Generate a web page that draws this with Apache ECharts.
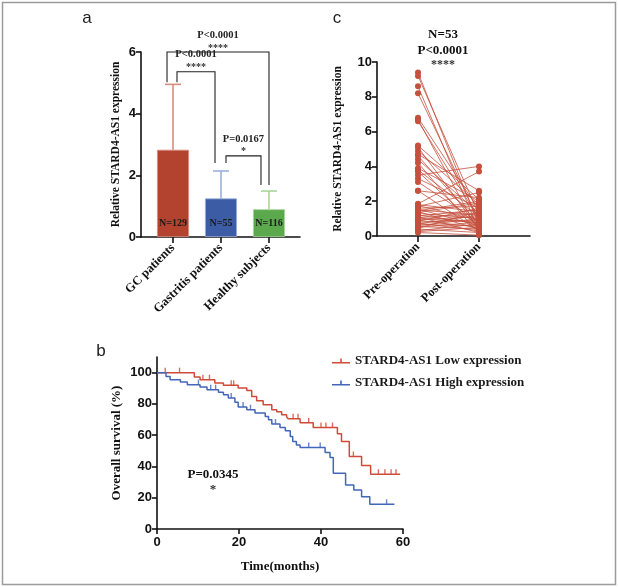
<!DOCTYPE html>
<html lang="en">
<head>
    <meta charset="UTF-8">
    <title>STARD4-AS1 expression and survival</title>
    <script src="https://cdn.jsdelivr.net/npm/echarts@6/dist/echarts.min.js"></script>
    <style>
        body { margin: 0; padding: 0; background: #ffffff; }
        #chart { width: 618px; height: 587px; }
    </style>
</head>
<body>
    <div id="chart"></div>
    <script>
        // panel a: bar chart with SD error bars
        const groupNames = ['GC patients', 'Gastritis patients', 'Healthy subjects'];
        const groupMeans = [2.83, 1.25, 0.9];
        const groupUpper = [4.95, 2.14, 1.49];
        const groupN = ['N=129', 'N=55', 'N=116'];
        const barColors = ['#B3432F', '#3C5DA6', '#5BA94C'];
        const errColors = ['#D98C7E', '#9CB0DA', '#A9D59C'];

        // significance brackets (x from / to, top, left leg end, right leg end)
        const bracketX1 = [0.875, 1.083, 2.104];
        const bracketX2 = [3.0, 1.875, 2.833];
        const bracketTop = [6.0, 5.36, 2.63];
        const bracketLeftEnd = [5.02, 5.02, 2.4];
        const bracketRightEnd = [1.69, 2.4, 1.69];
        const bracketP = ['P<0.0001', 'P<0.0001', 'P=0.0167'];
        const bracketStars = ['****', '****', '*'];

        // panel c: paired pre / post operation
        const pairNames = ['Pre-operation', 'Post-operation'];
        const preValues = [9.4, 9.2, 8.6, 8.2, 6.8, 6.7, 6.6, 5.2, 5.1, 4.9, 4.7, 4.6, 4.4, 4.2, 3.9, 3.8, 3.7, 3.5, 3.3, 3.1,
            2.6, 2.6, 1.85, 1.8, 1.75, 1.7, 1.6, 1.55, 1.5, 1.45, 1.4, 1.35, 1.3, 1.2, 1.15, 1.1, 1.05, 1.0, 0.95, 0.9,
            0.85, 0.8, 0.75, 0.7, 0.65, 0.6, 0.55, 0.5, 0.45, 0.4, 0.3, 0.25, 0.2];
        const postValues = [0.6, 1.2, 0.3, 0.9, 1.5, 0.2, 1.0, 2.1, 0.4, 1.8, 2.6, 0.7, 1.3, 0.1, 2.0, 1.1, 0.5, 4.0, 1.6, 0.8,
            2.2, 0.3, 3.7, 1.4, 0.9, 2.5, 1.7, 0.6, 1.2, 2.0, 0.4, 1.9, 1.0, 0.7, 1.5, 0.2, 1.3, 0.8, 1.1, 0.5,
            1.6, 0.9, 0.3, 1.2, 0.6, 1.0, 0.4, 0.8, 1.4, 0.2, 0.7, 0.5, 0.05];

        // panel b: Kaplan-Meier
        const lowTimes = [0, 9.1, 10.5, 14.1, 16.2, 19.8, 21.9, 23.1, 24.3, 25.9, 28, 29.2, 30.4, 31.6, 32, 34.9, 38.1, 44, 45, 46.9, 49.9, 52.1, 59.3];
        const lowSurv = [100, 97.2, 95.5, 93.4, 91.9, 90.2, 88.5, 84.8, 82, 79.5, 76.3, 75, 73.1, 71.8, 70.5, 67.9, 64.9, 60.9, 56, 46.4, 40.6, 35, 35];
        const highTimes = [0, 2.2, 3.2, 5.7, 7.4, 10.5, 12.2, 15, 16.2, 17.4, 19, 19.8, 21.9, 23.9, 26.4, 27.2, 28, 30, 31.3, 32.5, 33.1, 34, 34.9, 41, 42.2, 43, 46, 48, 49.9, 51.9, 57.9];
        const highSurv = [100, 97.6, 95.5, 94, 92.3, 90.8, 89.1, 87.4, 85.9, 83.8, 81, 78, 76.3, 74.2, 72, 69.9, 67.1, 64.9, 62.8, 59.2, 56, 53.8, 52.1, 48.9, 45.7, 35.7, 28.2, 25, 20.7, 15.8, 15.8];
        const lowCensorT = [2, 5.5, 11.2, 12.8, 18.1, 18.7, 33.2, 34.4, 37, 40, 41.2, 42.8, 47.9, 54, 55.6, 57.1, 58.3];
        const lowCensorS = [100, 100, 95.5, 95.5, 91.9, 91.9, 70.5, 70.5, 67.9, 64.9, 64.9, 64.9, 46.4, 35, 35, 35, 35];
        const highCensorT = [10.1, 13.1, 14.3, 18.1, 21, 22.8, 28.9, 37, 39.8, 56];
        const highCensorS = [92.3, 89.1, 89.1, 83.8, 78, 76.3, 67.1, 52.1, 52.1, 15.8];
        const kmNames = ['STARD4-AS1 Low expression', 'STARD4-AS1 High expression'];
        const kmColors = ['#D04A38', '#4266B8'];

        const serif = '"Liberation Serif", "Times New Roman", serif';
        const sans = '"Liberation Sans", Arial, sans-serif';
        const axisLine = { show: true, lineStyle: { color: '#111', width: 1.6 } };
        const axisTick = { show: true, length: 5, lineStyle: { color: '#111', width: 1.6 } };
        const tickFont = { fontFamily: sans, fontWeight: 'bold', fontSize: 13, color: '#111' };

        const chart = echarts.init(document.getElementById('chart'));

        const series = [];

        // --- panel a ---
        series.push({
            type: 'bar',
            xAxisIndex: 0, yAxisIndex: 0,
            barWidth: 32,
            data: groupMeans.map((v, i) => ({
                value: [i + 1, v],
                itemStyle: { color: barColors[i], borderColor: errColors[i], borderWidth: 0.8 }
            })),
            label: {
                show: true,
                position: 'insideBottom',
                distance: 9,
                formatter: p => groupN[p.dataIndex],
                fontFamily: serif, fontWeight: 'bold', fontSize: 10, color: '#1a1a1a'
            }
        });
        series.push({
            type: 'custom',
            xAxisIndex: 0, yAxisIndex: 0,
            data: groupMeans.map((v, i) => [i + 1, v, groupUpper[i]]),
            encode: { x: 0, y: [1, 2] },
            renderItem: (params, api) => {
                const i = params.dataIndex;
                const lo = api.coord([api.value(0), api.value(1)]);
                const hi = api.coord([api.value(0), api.value(2)]);
                const st = { stroke: errColors[i], lineWidth: 1.6 };
                return {
                    type: 'group', children: [
                        { type: 'line', shape: { x1: lo[0], y1: lo[1], x2: hi[0], y2: hi[1] }, style: st },
                        { type: 'line', shape: { x1: hi[0] - 8, y1: hi[1], x2: hi[0] + 8, y2: hi[1] }, style: st }
                    ]
                };
            }
        });
        series.push({
            type: 'custom',
            xAxisIndex: 0, yAxisIndex: 0,
            data: bracketX1.map((x, i) => [x, bracketX2[i], bracketTop[i], bracketLeftEnd[i], bracketRightEnd[i]]),
            encode: { x: [0, 1], y: [2, 3, 4] },
            renderItem: (params, api) => {
                const i = params.dataIndex;
                const t1 = api.coord([api.value(0), api.value(2)]);
                const t2 = api.coord([api.value(1), api.value(2)]);
                const l = api.coord([api.value(0), api.value(3)]);
                const r = api.coord([api.value(1), api.value(4)]);
                const cx = (t1[0] + t2[0]) / 2;
                return {
                    type: 'group', children: [
                        { type: 'polyline', shape: { points: [l, t1, t2, r] }, style: { stroke: '#222', lineWidth: 1.1, fill: null } },
                        { type: 'text', style: { text: bracketP[i], x: cx, y: t1[1] - 17, align: 'center', verticalAlign: 'middle', font: 'bold 10.5px ' + serif, fill: '#222' } },
                        { type: 'text', style: { text: bracketStars[i], x: cx, y: t1[1] - 4, align: 'center', verticalAlign: 'middle', font: 'bold 10px ' + serif, fill: '#333' } }
                    ]
                };
            }
        });

        // --- panel c ---
        preValues.forEach((pre, i) => {
            series.push({
                type: 'line',
                xAxisIndex: 1, yAxisIndex: 1,
                data: [[1, pre], [2, postValues[i]]],
                symbol: 'circle',
                symbolSize: 6,
                color: '#C4503D',
                lineStyle: { width: 0.8, color: '#C4503D' },
                silent: true
            });
        });

        // --- panel b ---
        const kmSets = [[lowTimes, lowSurv, lowCensorT, lowCensorS], [highTimes, highSurv, highCensorT, highCensorS]];
        kmSets.forEach((set, k) => {
            series.push({
                name: kmNames[k],
                type: 'line',
                xAxisIndex: 2, yAxisIndex: 2,
                step: 'end',
                symbol: 'none',
                color: kmColors[k],
                lineStyle: { width: 1.5, color: kmColors[k] },
                data: set[0].map((t, j) => [t, set[1][j]])
            });
            series.push({
                type: 'scatter',
                xAxisIndex: 2, yAxisIndex: 2,
                symbol: 'rect',
                symbolSize: [1.4, 5],
                symbolOffset: [0, -2.5],
                itemStyle: { color: kmColors[k] },
                data: set[2].map((t, j) => [t, set[3][j]])
            });
        });

        const option = {
            animation: false,
            backgroundColor: '#ffffff',
            grid: [
                { left: 141, right: 318, top: 52, bottom: 350 },
                { left: 377, right: 88, top: 62, bottom: 351 },
                { left: 157, right: 215, top: 357, bottom: 58 }
            ],
            legend: {
                data: kmNames.map(n => ({
                    name: n,
                    icon: 'path://M0,4h18v1.6h-18z M8.2,0.5h1.6v4h-1.6z'
                })),
                orient: 'vertical',
                left: 327, top: 349,
                itemWidth: 18, itemHeight: 6, itemGap: 8,
                textStyle: { fontFamily: serif, fontWeight: 'bold', fontSize: 13, color: '#1a1a1a', lineHeight: 14 }
            },
            xAxis: [
                {
                    gridIndex: 0, type: 'value', min: 0.333, max: 3.646,
                    axisLine, splitLine: { show: false },
                    axisTick: Object.assign({}, axisTick, { customValues: [1, 2, 3], length: 6 }),
                    axisLabel: {
                        customValues: [1, 2, 3], rotate: 45, margin: 9,
                        formatter: v => groupNames[Math.round(v) - 1] || '',
                        fontFamily: serif, fontWeight: 'bold', fontSize: 12.5, color: '#111'
                    }
                },
                {
                    gridIndex: 1, type: 'value', min: 0.328, max: 2.836,
                    axisLine, splitLine: { show: false },
                    axisTick: Object.assign({}, axisTick, { customValues: [1, 2], length: 6 }),
                    axisLabel: {
                        customValues: [1, 2], rotate: 45, margin: 9,
                        formatter: v => pairNames[Math.round(v) - 1] || '',
                        fontFamily: serif, fontWeight: 'bold', fontSize: 12.5, color: '#111'
                    }
                },
                {
                    gridIndex: 2, type: 'value', min: 0, max: 60, interval: 20,
                    axisLine, axisTick, splitLine: { show: false },
                    axisLabel: Object.assign({}, tickFont, { margin: 7 }),
                    name: 'Time(months)', nameLocation: 'middle', nameGap: 31,
                    nameTextStyle: { fontFamily: serif, fontWeight: 'bold', fontSize: 13, color: '#111' }
                }
            ],
            yAxis: [
                {
                    gridIndex: 0, type: 'value', min: 0, max: 6, interval: 2,
                    axisLine, axisTick, splitLine: { show: false },
                    axisLabel: Object.assign({}, tickFont, { margin: 5 }),
                    name: 'Relative STARD4-AS1 expression', nameLocation: 'middle', nameGap: 19,
                    nameTextStyle: { fontFamily: serif, fontWeight: 'bold', fontSize: 11.5, color: '#111' }
                },
                {
                    gridIndex: 1, type: 'value', min: 0, max: 10, interval: 2,
                    axisLine, axisTick, splitLine: { show: false },
                    axisLabel: Object.assign({}, tickFont, { margin: 5 }),
                    name: 'Relative STARD4-AS1 expression', nameLocation: 'middle', nameGap: 33,
                    nameTextStyle: { fontFamily: serif, fontWeight: 'bold', fontSize: 11.5, color: '#111' }
                },
                {
                    gridIndex: 2, type: 'value', min: 0, max: 110,
                    axisLine, splitLine: { show: false },
                    axisTick: Object.assign({}, axisTick, { customValues: [0, 20, 40, 60, 80, 100] }),
                    axisLabel: Object.assign({}, tickFont, { margin: 5, customValues: [0, 20, 40, 60, 80, 100] }),
                    name: 'Overall survival (%)', nameLocation: 'middle', nameGap: 34,
                    nameTextStyle: { fontFamily: serif, fontWeight: 'bold', fontSize: 13, color: '#111' }
                }
            ],
            graphic: [
                { type: 'rect', shape: { x: 2.5, y: 2.5, width: 613, height: 582 }, style: { fill: null, stroke: '#9b9b9b', lineWidth: 1.5 } },
                { type: 'text', x: 87, y: 18, style: { text: 'a', font: '17px ' + sans, fill: '#222', align: 'center', verticalAlign: 'middle' } },
                { type: 'text', x: 337, y: 18, style: { text: 'c', font: '17px ' + sans, fill: '#222', align: 'center', verticalAlign: 'middle' } },
                { type: 'text', x: 101, y: 351, style: { text: 'b', font: '17px ' + sans, fill: '#222', align: 'center', verticalAlign: 'middle' } },
                { type: 'text', x: 443, y: 35, style: { text: 'N=53', font: 'bold 13px ' + serif, fill: '#111', align: 'center', verticalAlign: 'middle' } },
                { type: 'text', x: 443, y: 51, style: { text: 'P<0.0001', font: 'bold 13px ' + serif, fill: '#111', align: 'center', verticalAlign: 'middle' } },
                { type: 'text', x: 443, y: 65, style: { text: '****', font: 'bold 12px ' + serif, fill: '#333', align: 'center', verticalAlign: 'middle' } },
                { type: 'text', x: 213, y: 475, style: { text: 'P=0.0345', font: 'bold 13px ' + serif, fill: '#111', align: 'center', verticalAlign: 'middle' } },
                { type: 'text', x: 213, y: 490, style: { text: '*', font: 'bold 13px ' + serif, fill: '#333', align: 'center', verticalAlign: 'middle' } }
            ],
            series: series
        };

        chart.setOption(option);
    </script>
</body>
</html>
